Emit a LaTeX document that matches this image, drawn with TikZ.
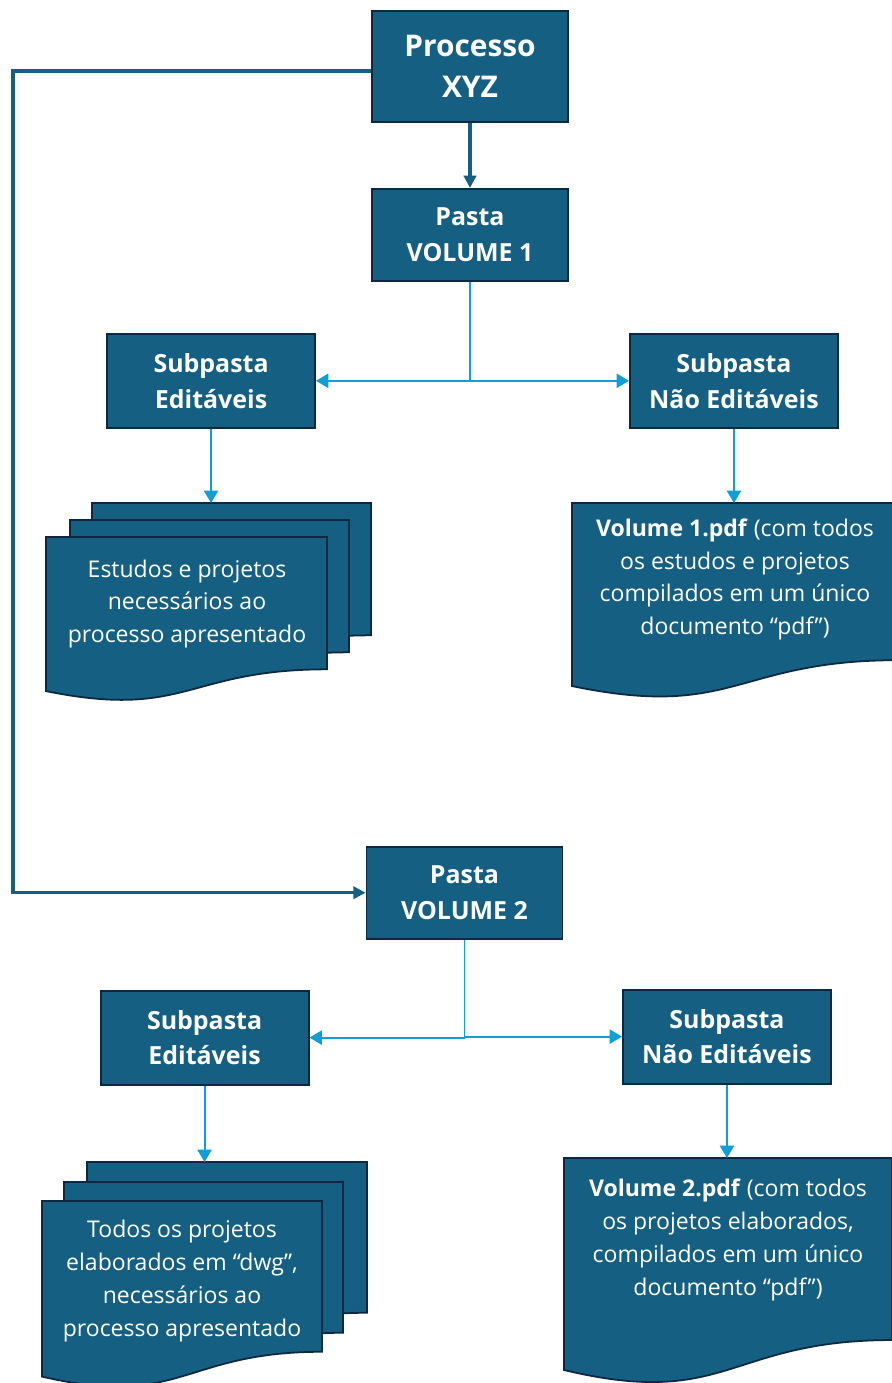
\documentclass[tikz,border=0pt]{standalone}
\usepackage{fontspec}
\setmainfont{Open Sans}
\usetikzlibrary{positioning,arrows.meta}

\definecolor{boxblue}{HTML}{156082}
\definecolor{boxline}{HTML}{0E2841}
\definecolor{linkblue}{HTML}{0F9ED5}

% one sheet of a document shape, top left at (#1,#2), width #3, height #4
\newcommand\docsheet[4]{%
  \draw[sheet] (#1,#2) -- ({#1+#3},#2) -- ({#1+#3},{#2+0.802*#4})
    .. controls ({#1+0.5*#3},{#2+0.802*#4}) and ({#1+0.5*#3},{#2+1.107*#4}) .. (#1,{#2+0.934*#4}) -- cycle;}

\begin{document}
\begin{tikzpicture}[x=0.02cm,y=-0.02cm,node distance=1cm,
  folder/.style={draw=boxline,line width=1.1pt,fill=boxblue,text=white,align=center,inner sep=0pt,
    font=\bfseries\fontsize{14.2}{20.4}\selectfont,minimum width=4.16cm,minimum height=1.88cm},
  pasta/.style={folder,minimum width=3.92cm,minimum height=1.84cm},
  sheet/.style={draw=boxline,line width=1pt,fill=boxblue},
  doctext/.style={text=white,align=center,font=\fontsize{13.1}{18.7}\selectfont},
  link/.style={linkblue,line width=1.1pt,-{Triangle[length=7pt,width=8pt]}},
  mainlink/.style={boxblue,line width=1.8pt,-{Triangle[length=7pt,width=7pt]}}]

\useasboundingbox (0,0) rectangle (892,1383);
\clip (0,0) rectangle (892,1383);

% nodes
\node (processo) [pasta,minimum height=2.22cm,font=\bfseries\fontsize{17}{23.2}\selectfont] at (470,66.5) {Processo\\XYZ};
\node (pasta1) [pasta,below=1.3cm of processo] {Pasta\\VOLUME 1};
\node (subE1) [folder,below=1.02cm of pasta1,xshift=-5.18cm] {Subpasta\\Editáveis};
\node (subN1) [folder,below=1.02cm of pasta1,xshift=5.28cm] {Subpasta\\Não Editáveis};
\node (pasta2) [pasta,below=11.28cm of pasta1,xshift=-0.11cm] {Pasta\\VOLUME 2};
\node (subE2) [folder,below=1cm of pasta2,xshift=-5.2cm] {Subpasta\\Editáveis};
\node (subN2) [folder,below=0.98cm of pasta2,xshift=5.25cm] {Subpasta\\Não Editáveis};

% documents
\docsheet{92}{503}{279}{165}
\docsheet{70}{520}{279}{165}
\docsheet{46}{537}{281}{165}
\docsheet{572}{503}{326}{196}
\docsheet{87}{1162}{280}{188}
\docsheet{64}{1182}{279}{188}
\docsheet{42}{1201}{280}{188}
\docsheet{564}{1158}{328}{227}

\node (doc1) [doctext] at (187,604) {Estudos e projetos\\necessários ao\\processo apresentado};
\node (pdf1) [doctext] at (735,579.5) {\textbf{Volume 1.pdf} (com todos\\os estudos e projetos\\compilados em um único\\documento “pdf”)};
\node (doc2) [doctext] at (182,1281) {Todos os projetos\\elaborados em “dwg”,\\necessários ao\\processo apresentado};
\node (pdf2) [doctext] at (728,1240) {\textbf{Volume 2.pdf} (com todos\\os projetos elaborados,\\compilados em um único\\documento “pdf”)};

\coordinate (doc1top) at (subE1.south |- 0,503);
\coordinate (pdf1top) at (subN1.south |- 0,503);
\coordinate (doc2top) at (subE2.south |- 0,1162);
\coordinate (pdf2top) at (subN2.south |- 0,1158);
\coordinate (start) at ([yshift=-0.09cm]processo.west);
\coordinate (corner) at (13,0 |- pasta2.west);

% arrows
\draw[mainlink] (processo) -- (pasta1);
\draw[mainlink] (start) -| (corner) -- (pasta2.west);
\draw[link] (pasta1.south) |- (subE1.east);
\draw[link] (pasta1.south) |- (subN1.west);
\draw[link] (pasta2.south) |- (subE2.east);
\draw[link] (pasta2.south) |- (subN2.west);
\draw[link] (subE1) -- (doc1top);
\draw[link] (subN1) -- (pdf1top);
\draw[link] (subE2) -- (doc2top);
\draw[link] (subN2) -- (pdf2top);
\end{tikzpicture}
\end{document}
